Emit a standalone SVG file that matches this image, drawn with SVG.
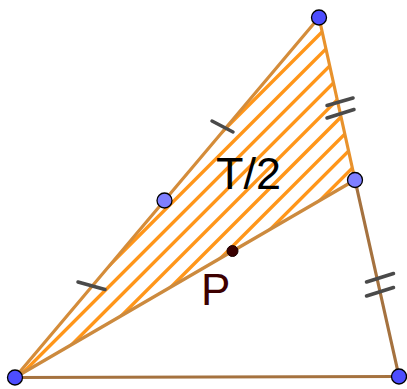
<svg xmlns="http://www.w3.org/2000/svg" width="407" height="389" viewBox="0 0 407 389">
<style>
.hatch{stroke:#ff961a;stroke-width:3.4;fill:none}
.edge{stroke-width:3.2;fill:none;stroke-linecap:round}
.tick{stroke:#4a4a4a;stroke-width:3.5;stroke-linecap:round;fill:none}
.vtx{fill:#4d4dff;stroke:#000;stroke-width:1.3}
.mid{fill:#7f7fff;stroke:#000;stroke-width:1.3}
.lbl{font-family:"Liberation Sans",Arial,sans-serif}
</style>
<defs>
<clipPath id="triClip"><polygon points="15,377.5 319,17.5 355,180"/></clipPath>
</defs>
<g id="region">
<g clip-path="url(#triClip)">
<line class="hatch" x1="100" y1="254" x2="360" y2="-6"/>
<line class="hatch" x1="100" y1="274.8" x2="380" y2="-5.2"/>
<line class="hatch" x1="0" y1="395.6" x2="400" y2="-4.4"/>
<line class="hatch" x1="0" y1="416.4" x2="420" y2="-3.6"/>
<line class="hatch" x1="0" y1="437.2" x2="440" y2="-2.8"/>
<line class="hatch" x1="0" y1="458" x2="460" y2="-2"/>
<line class="hatch" x1="0" y1="478.8" x2="480" y2="-1.2"/>
<line class="hatch" x1="0" y1="499.6" x2="500" y2="-0.4"/>
<line class="hatch" x1="0" y1="520.4" x2="520" y2="0.4"/>
</g>
</g>
<g id="connectors">
<line class="edge" x1="15" y1="377.5" x2="399" y2="376.5" stroke="#a5723f"/>
<line class="edge" x1="355" y1="180" x2="399" y2="376.5" stroke="#a5723f"/>
<line class="edge" x1="15" y1="377.5" x2="355" y2="180" stroke="#cc8a3e"/>
<line class="edge" x1="319" y1="17.5" x2="355" y2="180" stroke="#e8922c"/>
<line class="edge" x1="15" y1="377.5" x2="319" y2="17.5" stroke="#d48c3a"/>
<line class="tick" x1="212" y1="121" x2="233" y2="132"/>
<line class="tick" x1="78" y1="282" x2="105" y2="289.5"/>
<line class="tick" x1="327" y1="105.5" x2="353" y2="98"/>
<line class="tick" x1="327" y1="118" x2="354" y2="109.5"/>
<line class="tick" x1="366.5" y1="282" x2="393.5" y2="273.5"/>
<line class="tick" x1="366.5" y1="296" x2="393.5" y2="287.5"/>
</g>
<g id="A"><circle class="vtx" cx="15" cy="377.5" r="7.5"/></g>
<g id="B"><circle class="vtx" cx="319" cy="17.5" r="7.5"/></g>
<g id="C"><circle class="vtx" cx="399" cy="376.5" r="7.5"/></g>
<g id="M"><circle class="mid" cx="355" cy="180" r="7.5"/></g>
<g id="N"><circle class="mid" cx="164.5" cy="200.5" r="7.5"/></g>
<g id="P"><circle cx="232.5" cy="251" r="5.5" fill="#3a0000" stroke="#1a0000" stroke-width="1"/>
<text class="lbl" x="201" y="305" font-size="44" fill="#3d0000">P</text></g>
<g id="label"><text class="lbl" x="216" y="188.5" font-size="45" fill="#000">T/2</text></g>
</svg>
